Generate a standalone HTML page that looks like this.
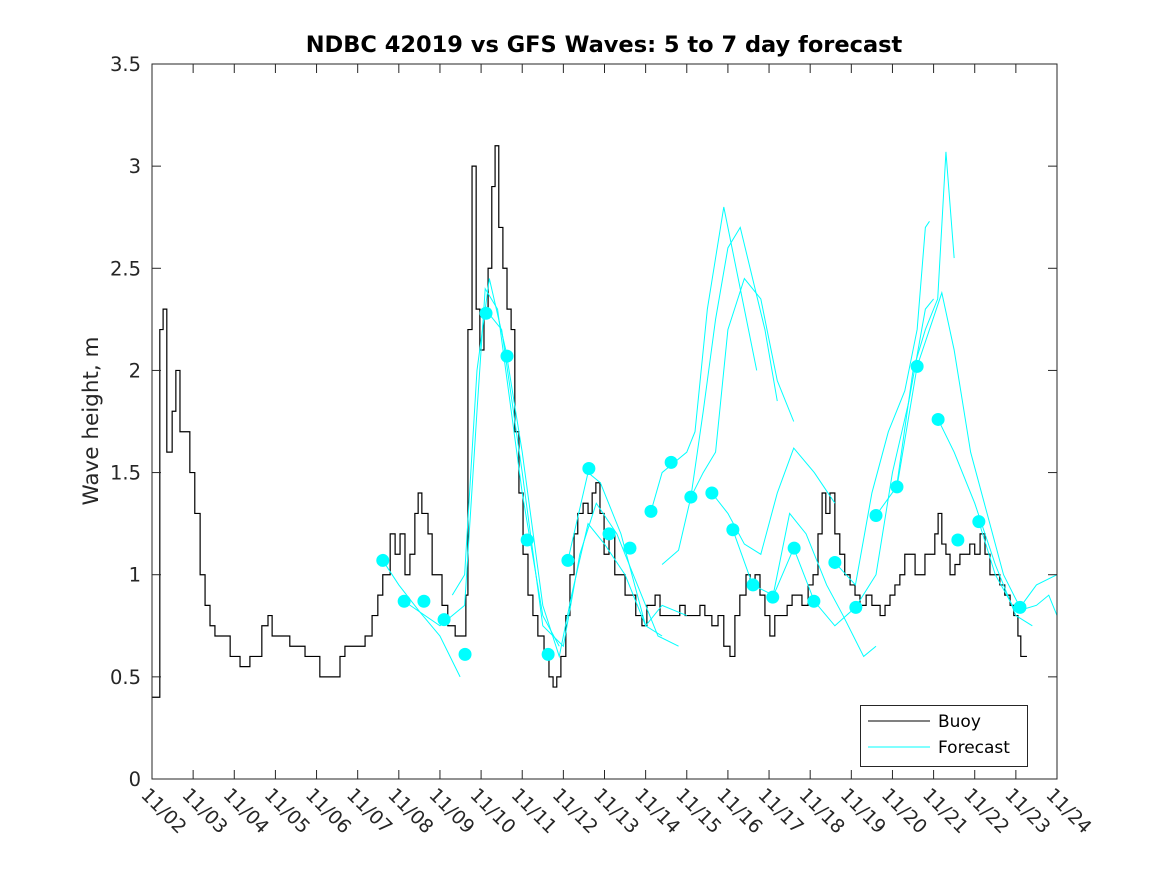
<!DOCTYPE html>
<html><head><meta charset="utf-8"><style>
body{margin:0;background:#fff;}
svg{display:block;font-family:"DejaVu Sans","Liberation Sans",sans-serif;}
</style></head><body>
<svg id="chart" width="1167" height="875" viewBox="0 0 1167 875" xmlns="http://www.w3.org/2000/svg">
<rect x="0" y="0" width="1167" height="875" fill="#fff"/>
<text x="604" y="52" text-anchor="middle" font-size="22.5" font-weight="bold" fill="#000">NDBC 42019 vs GFS Waves: 5 to 7 day forecast</text>
<text transform="translate(98,421) rotate(-90)" text-anchor="middle" font-size="21.5" fill="#262626">Wave height, m</text>
<g id="series"></g>
<rect x="152" y="64" width="905" height="715" fill="none" stroke="#262626" stroke-width="1"/>
<g id="axes"></g>
<g>
<rect x="860.5" y="705.5" width="167" height="61" fill="#fff" stroke="#262626"/>
<line x1="868" y1="721" x2="930" y2="721" stroke="#000"/>
<text x="938" y="727" font-size="17" fill="#000">Buoy</text>
<line x1="868" y1="747" x2="930" y2="747" stroke="#00ffff"/>
<text x="938" y="753" font-size="17" fill="#000">Forecast</text>
</g>
</svg>
<script>
// data: time in day-of-month (November), values in metres
const xTickLabels = ["11/02","11/03","11/04","11/05","11/06","11/07","11/08","11/09","11/10","11/11","11/12","11/13","11/14","11/15","11/16","11/17","11/18","11/19","11/20","11/21","11/22","11/23","11/24"];
const yTickValues = [0,0.5,1,1.5,2,2.5,3,3.5];
const buoyTime = [2.00,2.12,2.19,2.27,2.36,2.49,2.58,2.68,2.83,2.92,3.04,3.17,3.29,3.41,3.53,3.70,3.90,4.14,4.38,4.58,4.67,4.82,4.92,5.23,5.35,5.60,5.72,5.96,6.08,6.45,6.57,6.69,6.93,7.18,7.35,7.49,7.61,7.79,7.91,8.03,8.15,8.27,8.39,8.47,8.56,8.71,8.81,8.93,9.05,9.19,9.37,9.49,9.63,9.68,9.78,9.88,9.97,10.07,10.17,10.26,10.34,10.43,10.53,10.63,10.73,10.82,10.92,11.02,11.14,11.26,11.38,11.53,11.65,11.75,11.84,11.94,12.06,12.16,12.26,12.35,12.48,12.60,12.70,12.79,12.89,12.99,13.11,13.25,13.38,13.50,13.62,13.76,13.91,14.03,14.23,14.35,14.54,14.71,14.83,14.96,15.13,15.32,15.44,15.61,15.76,15.90,16.05,16.17,16.29,16.44,16.54,16.66,16.78,16.90,17.02,17.14,17.31,17.44,17.56,17.68,17.80,17.95,18.07,18.19,18.29,18.38,18.48,18.60,18.72,18.84,18.97,19.09,19.21,19.36,19.50,19.70,19.82,19.94,20.06,20.18,20.30,20.42,20.55,20.67,20.79,20.91,21.03,21.11,21.20,21.30,21.40,21.52,21.64,21.76,21.88,22.00,22.13,22.25,22.37,22.49,22.61,22.73,22.86,22.95,23.05,23.12,23.27];
const buoyValue = [0.4,0.4,2.2,2.3,1.6,1.8,2.0,1.7,1.7,1.5,1.3,1.0,0.85,0.75,0.7,0.7,0.6,0.55,0.6,0.6,0.75,0.8,0.7,0.7,0.65,0.65,0.6,0.6,0.5,0.5,0.6,0.65,0.65,0.7,0.8,0.9,1.0,1.2,1.1,1.2,1.0,1.1,1.3,1.4,1.3,1.2,1.0,1.0,0.85,0.75,0.7,0.7,0.9,2.2,3.0,2.3,2.1,2.3,2.5,2.9,3.1,2.7,2.5,2.3,2.2,1.7,1.4,1.1,0.9,0.8,0.7,0.6,0.5,0.45,0.5,0.6,0.8,1.0,1.2,1.3,1.35,1.3,1.4,1.45,1.3,1.1,1.2,1.0,1.0,0.9,0.9,0.8,0.75,0.85,0.9,0.8,0.8,0.8,0.85,0.8,0.8,0.85,0.8,0.75,0.8,0.65,0.6,0.8,0.9,1.0,0.95,1.0,0.9,0.8,0.7,0.8,0.8,0.85,0.9,0.9,0.85,0.95,1.0,1.2,1.4,1.3,1.4,1.2,1.1,1.0,0.95,0.9,0.85,0.9,0.85,0.8,0.85,0.9,0.95,1.0,1.1,1.1,1.0,1.0,1.1,1.1,1.2,1.3,1.15,1.1,1.0,1.05,1.1,1.1,1.15,1.1,1.2,1.1,1.0,1.0,0.95,0.9,0.85,0.8,0.7,0.6,0.6];
const runTimes = [
 [7.61,8.0,8.5,9.0,9.49],
 [8.13,9.0,9.6,9.9,10.1,10.4,11.0,11.5,11.9],
 [9.3,9.6,9.9,10.2,10.6,11.0,11.5,11.9,12.2,12.6,13.0,13.5,14.0,14.4],
 [10.1,10.5,11.0,11.5,12.0,12.4,12.8,13.3,13.8,14.3,14.8],
 [12.11,12.6,12.9,13.4,14.0,14.4,15.0],
 [14.13,14.4,14.7,15.0,15.2,15.5,15.9,16.1,16.4,16.7],
 [14.4,14.8,15.1,15.4,15.7,16.0,16.3,16.6,16.9,17.2],
 [15.1,15.4,15.7,16.0,16.4,16.8,17.2,17.6],
 [15.61,16.0,16.4,16.8,17.2,17.6,18.1,18.6],
 [16.12,16.6,17.1,17.5,17.9,18.4,18.8,19.3,19.6],
 [17.09,17.6,18.1,18.6,19.1,19.6,20.0,20.4,20.8,21.0],
 [18.6,19.1,19.5,19.9,20.3,20.6,20.8,20.9],
 [19.6,20.1,20.5,20.8,21.1,21.3,21.5],
 [20.11,20.6,20.9,21.2,21.5,21.9,22.3,22.7,23.1],
 [21.11,21.5,22.0,22.5,23.0,23.4],
 [22.1,22.5,23.0,23.5,23.8,24.0],
 [23.1,23.5,24.0]
];
const runValues = [
 [1.07,0.95,0.82,0.7,0.5],
 [0.87,0.75,0.85,1.8,2.4,2.3,1.4,0.8,0.65],
 [0.9,1.0,2.0,2.45,2.1,1.6,0.85,0.6,0.9,1.25,1.15,1.0,0.75,0.7],
 [2.3,2.2,1.5,0.75,0.65,1.1,1.35,1.2,0.95,0.7,0.65],
 [1.07,1.5,1.45,1.2,0.75,0.85,0.8],
 [1.31,1.5,1.55,1.6,1.7,2.3,2.8,2.6,2.3,2.0],
 [1.05,1.12,1.38,1.8,2.25,2.6,2.7,2.45,2.2,1.85],
 [1.38,1.5,1.6,2.2,2.45,2.35,1.95,1.75],
 [1.40,1.3,1.15,1.1,1.4,1.62,1.5,1.35],
 [1.22,0.95,0.9,1.3,1.2,0.95,0.8,0.6,0.65],
 [0.89,1.13,0.87,0.75,0.84,1.0,1.5,1.85,2.3,2.35],
 [1.06,0.95,1.4,1.7,1.9,2.2,2.7,2.73],
 [1.29,1.43,2.0,2.2,2.35,3.07,2.55],
 [1.43,2.02,2.2,2.38,2.1,1.6,1.3,1.0,0.84],
 [1.76,1.6,1.35,1.05,0.8,0.75],
 [1.26,1.0,0.82,0.85,0.9,0.8],
 [0.84,0.95,1.0]
];
const dotTime = [7.61,8.13,8.61,9.10,9.61,10.12,10.63,11.12,11.63,12.11,12.62,13.11,13.62,14.13,14.62,15.10,15.61,16.12,16.61,17.09,17.61,18.09,18.60,19.11,19.60,20.11,20.60,21.11,21.59,22.10,23.10];
const dotValue = [1.07,0.87,0.87,0.78,0.61,2.28,2.07,1.17,0.61,1.07,1.52,1.20,1.13,1.31,1.55,1.38,1.40,1.22,0.95,0.89,1.13,0.87,1.06,0.84,1.29,1.43,2.02,1.76,1.17,1.26,0.84];

const NS="http://www.w3.org/2000/svg";
const X0=152,X1=1057,Y0=779,Y1=64,T0=2,T1=24,V1=3.5;
const xs=t=>X0+(t-T0)/(T1-T0)*(X1-X0);
const ys=v=>Y0-v/V1*(Y0-Y1);
const series=document.getElementById('series');
const axes=document.getElementById('axes');
function mk(tag,attrs,parent){const e=document.createElementNS(NS,tag);for(const k in attrs)e.setAttribute(k,attrs[k]);parent.appendChild(e);return e;}

let d="";
buoyTime.forEach((t,i)=>{const x=xs(t),y=ys(buoyValue[i]);if(i===0)d+="M"+x+","+y;else d+=" H"+x+" V"+y;});
const bl=mk('path',{d:d,fill:'none',stroke:'#000','stroke-width':1.2},series);



runTimes.forEach((ts,r)=>{
  const pts=ts.map((t,i)=>xs(t)+","+ys(runValues[r][i])).join(" ");
  const pl=mk('polyline',{points:pts,fill:'none',stroke:'#00ffff','stroke-width':1},series);
  
  
});
dotTime.forEach((t,i)=>{
  const c=mk('circle',{cx:xs(t),cy:ys(dotValue[i]),r:6.5,fill:'#00ffff'},series);
  
  
});

xTickLabels.forEach((lab,i)=>{
  const x=xs(T0+i);
  mk('line',{x1:x,y1:Y0,x2:x,y2:Y0-9,stroke:'#262626'},axes);
  mk('line',{x1:x,y1:Y1,x2:x,y2:Y1+9,stroke:'#262626'},axes);
  const tx=mk('text',{transform:'translate('+(x-12)+',796) rotate(45)','font-size':19,fill:'#262626'},axes);
  tx.textContent=lab;
  
  
});
yTickValues.forEach(v=>{
  const y=ys(v);
  mk('line',{x1:X0,y1:y,x2:X0+9,y2:y,stroke:'#262626'},axes);
  mk('line',{x1:X1,y1:y,x2:X1-9,y2:y,stroke:'#262626'},axes);
  const tx=mk('text',{x:141,y:y+7,'text-anchor':'end','font-size':19.5,fill:'#262626'},axes);
  tx.textContent=String(v);
  
  
});
</script>
</body></html>
